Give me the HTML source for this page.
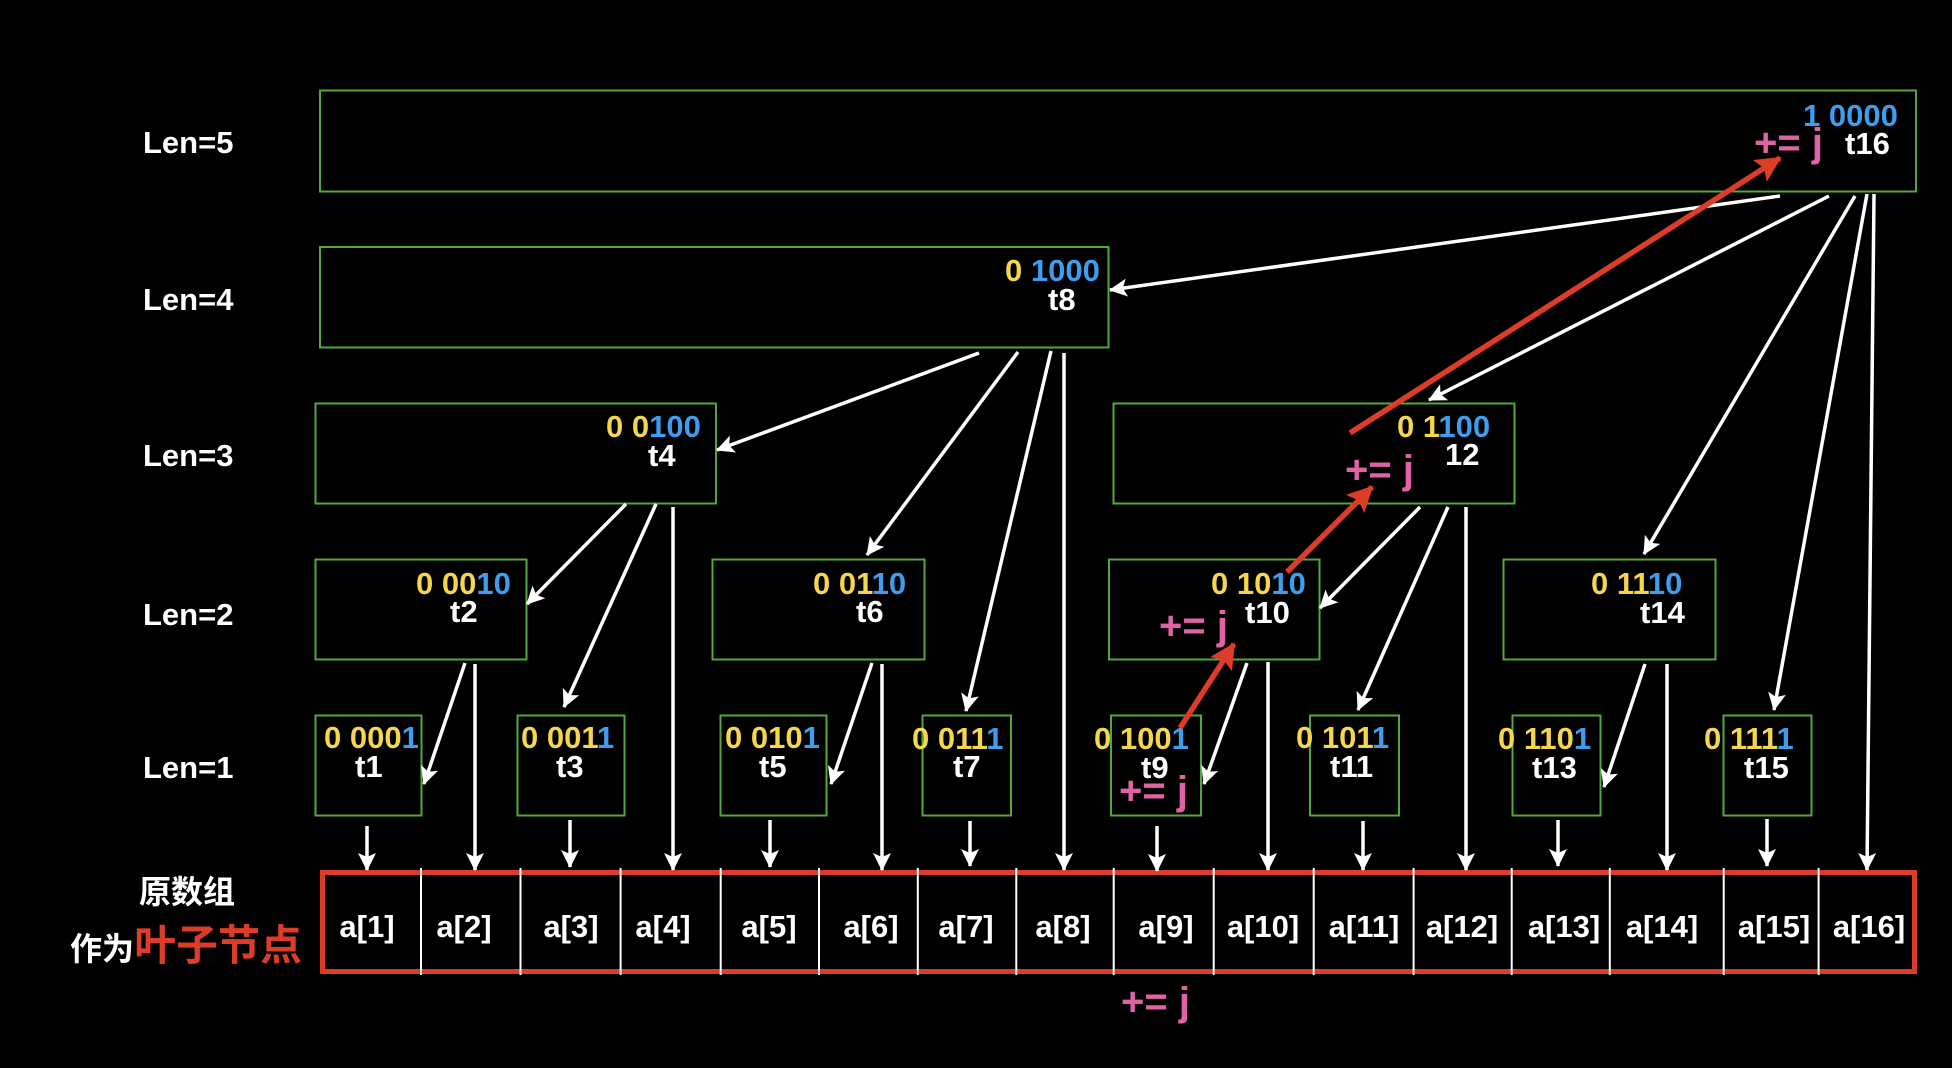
<!DOCTYPE html>
<html><head><meta charset="utf-8"><style>
html,body{margin:0;padding:0;background:#000;}
svg{display:block;}
text{font-family:"Liberation Sans","Noto Sans CJK SC",sans-serif;font-weight:bold;}
</style></head><body>
<svg width="1952" height="1068" viewBox="0 0 1952 1068" xmlns="http://www.w3.org/2000/svg">
<defs>
<marker id="wa" markerUnits="userSpaceOnUse" markerWidth="18" markerHeight="18" refX="17" refY="9" orient="auto" viewBox="0 0 18 18"><path d="M0,0 L18,9 L0,18 L4,9 z" fill="#fff"/></marker>
<marker id="ra" markerUnits="userSpaceOnUse" markerWidth="26" markerHeight="26" refX="24" refY="13" orient="auto" viewBox="0 0 26 26"><path d="M0,0 L26,13 L0,26 L5,13 z" fill="#dc3c28"/></marker>
</defs>
<rect width="1952" height="1068" fill="#000"/>

<!-- Level labels -->
<g fill="#fff" font-size="31">
<text x="143" y="153">Len=5</text>
<text x="143" y="310">Len=4</text>
<text x="143" y="466">Len=3</text>
<text x="143" y="625">Len=2</text>
<text x="143" y="778">Len=1</text>
</g>

<!-- Green boxes -->
<g fill="none" stroke="#52a83a" stroke-width="2">
<rect x="320" y="90.5" width="1596" height="101"/>
<rect x="320" y="247" width="788.5" height="100.5"/>
<rect x="315.5" y="403.5" width="400.5" height="100"/>
<rect x="1113.5" y="403.5" width="401" height="100"/>
<rect x="315.5" y="559.5" width="211" height="100"/>
<rect x="712.5" y="559.5" width="212" height="100"/>
<rect x="1109" y="559.5" width="210.5" height="100"/>
<rect x="1503.5" y="559.5" width="212" height="100"/>
<rect x="315.5" y="715.5" width="106" height="100"/>
<rect x="517.5" y="715.5" width="107" height="100"/>
<rect x="720.5" y="715.5" width="106" height="100"/>
<rect x="922.5" y="715.5" width="88.5" height="100"/>
<rect x="1111" y="715.5" width="90" height="100"/>
<rect x="1310" y="715.5" width="89" height="100"/>
<rect x="1512.5" y="715.5" width="88" height="100"/>
<rect x="1723.5" y="715.5" width="88" height="100"/>
</g>

<!-- Array -->
<rect x="322.5" y="872.5" width="1592" height="99" fill="none" stroke="#dc3c28" stroke-width="5"/>
<g stroke="#fff" stroke-width="2">
<line x1="421" y1="868" x2="421" y2="975"/>
<line x1="520.5" y1="868" x2="520.5" y2="975"/>
<line x1="620.6" y1="868" x2="620.6" y2="975"/>
<line x1="720.7" y1="868" x2="720.7" y2="975"/>
<line x1="819" y1="868" x2="819" y2="975"/>
<line x1="917.8" y1="868" x2="917.8" y2="975"/>
<line x1="1016.3" y1="868" x2="1016.3" y2="975"/>
<line x1="1113.7" y1="868" x2="1113.7" y2="975"/>
<line x1="1213.7" y1="868" x2="1213.7" y2="975"/>
<line x1="1313.7" y1="868" x2="1313.7" y2="975"/>
<line x1="1413.6" y1="868" x2="1413.6" y2="975"/>
<line x1="1511.7" y1="868" x2="1511.7" y2="975"/>
<line x1="1609.8" y1="868" x2="1609.8" y2="975"/>
<line x1="1723.7" y1="868" x2="1723.7" y2="975"/>
<line x1="1818.6" y1="868" x2="1818.6" y2="975"/>
</g>
<g fill="#fff" font-size="31" text-anchor="middle">
<text x="367" y="937">a[1]</text>
<text x="464" y="937">a[2]</text>
<text x="571" y="937">a[3]</text>
<text x="663" y="937">a[4]</text>
<text x="769" y="937">a[5]</text>
<text x="871" y="937">a[6]</text>
<text x="966" y="937">a[7]</text>
<text x="1063" y="937">a[8]</text>
<text x="1166" y="937">a[9]</text>
<text x="1263" y="937">a[10]</text>
<text x="1364" y="937">a[11]</text>
<text x="1462" y="937">a[12]</text>
<text x="1564" y="937">a[13]</text>
<text x="1662" y="937">a[14]</text>
<text x="1774" y="937">a[15]</text>
<text x="1869" y="937">a[16]</text>
</g>

<!-- Left CJK labels -->
<text x="139" y="903" font-size="32" fill="#fff">原数组</text>
<text x="70" y="960"><tspan font-size="32" fill="#fff">作为</tspan><tspan font-size="42" fill="#dc3c28">叶子节点</tspan></text>

<!-- White arrows -->
<g stroke="#fff" stroke-width="3.5" fill="none" marker-end="url(#wa)">
<line x1="1780" y1="196" x2="1110" y2="290"/>
<line x1="1829" y1="196" x2="1429" y2="400"/>
<line x1="1855" y1="196" x2="1644" y2="554"/>
<line x1="1867" y1="194" x2="1774" y2="710"/>
<line x1="1874" y1="194" x2="1867" y2="870"/>
<line x1="979" y1="353" x2="717" y2="450"/>
<line x1="1018" y1="352" x2="867" y2="555"/>
<line x1="1051" y1="351" x2="966" y2="711"/>
<line x1="1064" y1="353" x2="1064" y2="870"/>
<line x1="626" y1="504" x2="527" y2="604"/>
<line x1="656" y1="504" x2="564" y2="707"/>
<line x1="673" y1="507" x2="673" y2="870"/>
<line x1="465" y1="663" x2="424" y2="784"/>
<line x1="475" y1="664" x2="475" y2="870"/>
<line x1="872" y1="663" x2="831" y2="784"/>
<line x1="882" y1="664" x2="882" y2="870"/>
<line x1="1420" y1="507" x2="1320" y2="608"/>
<line x1="1448" y1="507" x2="1358" y2="710"/>
<line x1="1466" y1="507" x2="1466" y2="870"/>
<line x1="1247" y1="663" x2="1204" y2="784"/>
<line x1="1268" y1="662" x2="1268" y2="870"/>
<line x1="1645" y1="664" x2="1604" y2="787"/>
<line x1="1667" y1="664" x2="1667" y2="870"/>
<line x1="367" y1="826" x2="367" y2="870"/>
<line x1="570" y1="820" x2="570" y2="867"/>
<line x1="770" y1="820" x2="770" y2="867"/>
<line x1="970" y1="821" x2="970" y2="866"/>
<line x1="1157" y1="826" x2="1157" y2="871"/>
<line x1="1363" y1="821" x2="1363" y2="870"/>
<line x1="1558" y1="820" x2="1558" y2="866"/>
<line x1="1767" y1="819" x2="1767" y2="866"/>
</g>

<!-- Box texts -->
<g font-size="31">
<text x="1803" y="126" fill="#3d9ef0">1 0000</text>
<text x="1845" y="154" fill="#fff">t16</text>

<text x="1005" y="281"><tspan fill="#f6d64a">0 </tspan><tspan fill="#3d9ef0">1000</tspan></text>
<text x="1048" y="310" fill="#fff">t8</text>

<text x="606" y="437"><tspan fill="#f6d64a">0 0</tspan><tspan fill="#3d9ef0">100</tspan></text>
<text x="648" y="466" fill="#fff">t4</text>

<text x="1397" y="437"><tspan fill="#f6d64a">0 1</tspan><tspan fill="#3d9ef0">100</tspan></text>
<text x="1445" y="465" fill="#fff">12</text>

<text x="416" y="594"><tspan fill="#f6d64a">0 00</tspan><tspan fill="#3d9ef0">10</tspan></text>
<text x="450" y="622" fill="#fff">t2</text>

<text x="813" y="594"><tspan fill="#f6d64a">0 01</tspan><tspan fill="#3d9ef0">10</tspan></text>
<text x="856" y="622" fill="#fff">t6</text>

<text x="1211" y="594"><tspan fill="#f6d64a">0 10</tspan><tspan fill="#3d9ef0">10</tspan></text>
<text x="1245" y="623" fill="#fff">t10</text>

<text x="1591" y="594"><tspan fill="#f6d64a">0 11</tspan><tspan fill="#3d9ef0">10</tspan></text>
<text x="1640" y="623" fill="#fff">t14</text>

<text x="324" y="748"><tspan fill="#f6d64a">0 000</tspan><tspan fill="#3d9ef0">1</tspan></text>
<text x="355" y="777" fill="#fff">t1</text>

<text x="521" y="748"><tspan fill="#f6d64a">0 001</tspan><tspan fill="#3d9ef0">1</tspan></text>
<text x="556" y="777" fill="#fff">t3</text>

<text x="725" y="748"><tspan fill="#f6d64a">0 010</tspan><tspan fill="#3d9ef0">1</tspan></text>
<text x="759" y="777" fill="#fff">t5</text>

<text x="912" y="749"><tspan fill="#f6d64a">0 011</tspan><tspan fill="#3d9ef0">1</tspan></text>
<text x="953" y="777" fill="#fff">t7</text>

<text x="1094" y="749"><tspan fill="#f6d64a">0 100</tspan><tspan fill="#3d9ef0">1</tspan></text>
<text x="1141" y="778" fill="#fff">t9</text>

<text x="1296" y="748"><tspan fill="#f6d64a">0 101</tspan><tspan fill="#3d9ef0">1</tspan></text>
<text x="1330" y="777" fill="#fff">t11</text>

<text x="1498" y="749"><tspan fill="#f6d64a">0 110</tspan><tspan fill="#3d9ef0">1</tspan></text>
<text x="1532" y="778" fill="#fff">t13</text>

<text x="1704" y="749"><tspan fill="#f6d64a">0 111</tspan><tspan fill="#3d9ef0">1</tspan></text>
<text x="1744" y="778" fill="#fff">t15</text>
</g>

<!-- += j labels -->
<g font-size="40" fill="#e063a6">
<text x="1754" y="156">+= j</text>
<text x="1345" y="483">+= j</text>
<text x="1159" y="639">+= j</text>
<text x="1119" y="804">+= j</text>
<text x="1121" y="1015">+= j</text>
</g>

<!-- Red arrows -->
<g stroke="#dc3c28" stroke-width="5.5" fill="none" marker-end="url(#ra)">
<line x1="1180" y1="728" x2="1234" y2="644"/>
<line x1="1287" y1="572" x2="1372" y2="487"/>
<line x1="1350" y1="433" x2="1780" y2="158"/>
</g>
</svg>
</body></html>
